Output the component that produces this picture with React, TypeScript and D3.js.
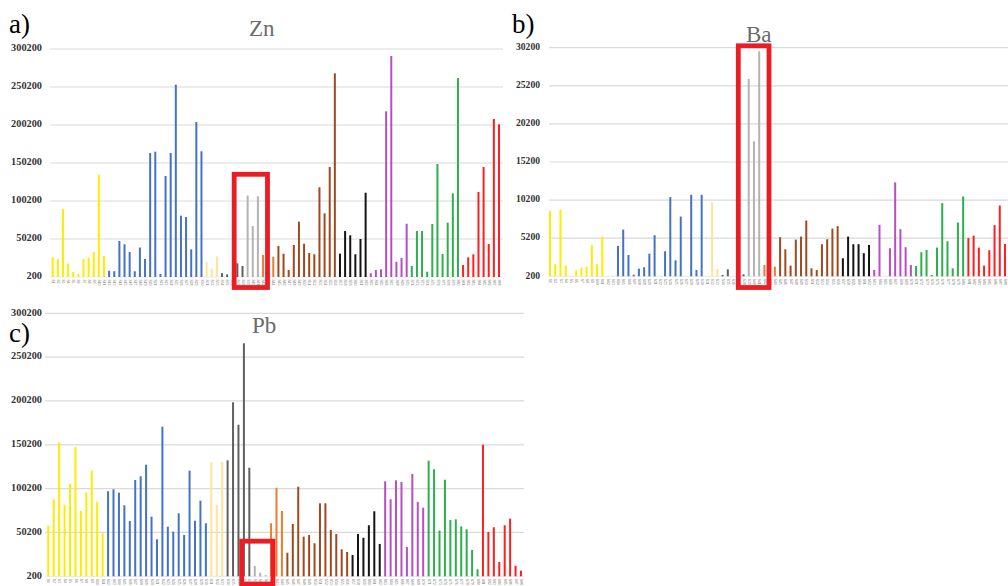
import React from "react";
import * as d3 from "d3";

const W = 1008;
const H = 586;

type GroupKey =
  | "yellow" | "blue" | "paleYellow" | "darkGray" | "gray" | "orange"
  | "brown" | "black" | "purple" | "green" | "red";

const groupOrder: GroupKey[] = [
  "yellow", "blue", "paleYellow", "darkGray", "gray", "orange",
  "brown", "black", "purple", "green", "red",
];

const groupColor: Record<GroupKey, string> = {
  yellow: "#fcec00",
  blue: "#4472c4",
  paleYellow: "#fde49a",
  darkGray: "#606060",
  gray: "#b3b3b3",
  orange: "#ed7d31",
  brown: "#9e4a1f",
  black: "#141414",
  purple: "#b54fc2",
  green: "#2fae4e",
  red: "#ff1f1f",
};

// ---- Zn ----
const znYellow = [26100, 23500, 89700, 18000, 6800, 3700, 23600, 25900, 33100, 134800, 27800];
const znBlue = [8400, 7800, 47600, 43200, 33100, 7700, 39000, 23900, 163400, 165100, 4100, 133100, 163400, 253200, 80900, 79100, 36600, 204100, 165600];
const znPaleYellow = [19900, 11100, 27400];
const znDarkGray = [5100, 3700, null, 18200, 14700];
const znGray = [107400, 67300, 106400];
const znOrange = [29200, null, 26900];
const znBrown = [41000, 30900, 9400, 42300, 73000, 44000, 31800, 30100, 118200, 84000, 144900, 268200];
const znBlack = [30900, 60700, 55100, 30100, 50200, 111100];
const znPurple = [5100, 9400, 10300, 218200, 291000, 20300, 25200, 70300];
const znGreen = [14700, 60700, 60700, 7200, 69900, 148900, 30500, 71700, 110300, 262000];
const znRed = [16000, 26100, 30100, 112000, 144900, 43600, 208100, 201100];
const znTicks = [200, 50200, 100200, 150200, 200200, 250200, 300200];

// ---- Ba ----
const baYellow = [8800, 1780, 8960, 1650, null, 940, 1330, 1460, 4320, 1780, 5410];
const baBlue = [null, null, 4190, 6330, 3000, 410, 1200, 1380, 3170, 5590, null, 3490, 10590, 2300, 8040, null, 10900, 1030, 10900];
const baPaleYellow = [null, 9940, 1200];
const baDarkGray = [370, 1120, null, null, 460];
const baGray = [26100, 17900, 29750];
const baOrange = [1690, null, 1460];
const baBrown = [5330, 3750, 1600, 5020, 5410, 7520, 1250, 1030, 4410, 5070, 6460, 6780];
const baBlack = [2570, 5410, 4410, 4410, 3230, 4320];
const baPurple = [1030, 6950, null, 3880, 12520, 6380, 4020, 1690];
const baGreen = [1560, 3360, 3660, 370, 3970, 9800, 4800, 1250, 7260, 10670];
const baRed = [5240, 5540, 3970, 1600, 3620, 6910, 9490, 4450];
const baTicks = [200, 5200, 10200, 15200, 20200, 25200, 30200];

// ---- Pb ----
const pbYellow = [57900, 88000, 153100, 81900, 105800, 147700, 74700, 96000, 120700, 85000, 49300];
const pbBlue = [97200, 99400, 95600, 81200, 63300, 110100, 114300, 127500, 68200, 42400, 170900, 56800, 51100, 72100, 47300, 120700, 63600, 86500, 60700];
const pbPaleYellow = [130600, 81900, 130600];
const pbDarkGray = [132500, 198700, 173100, 266000, 124100];
const pbGray = [12000, 4300, 1500];
const pbOrange = [60700, 101300, 74700];
const pbBrown = [27100, 59900, 102400, 45400, 47300, 37900, 83500, 83500, 53000, 48500, 31000, 27900];
const pbBlack = [24500, 48500, 44200, 58400, 74400, 37100];
const pbPurple = [108600, 88000, 109700, 107800, 33600, 117000, 85000, 78500];
const pbGreen = [132100, 122300, 52300, 110400, 64400, 65200, 57200, 53800, 30200, 8200];
const pbRed = [150400, 50700, 56100, 16500, 58400, 66000, 12300, 6600];
const pbTicks = [200, 50200, 100200, 150200, 200200, 250200, 300200];

type Series = Record<GroupKey, (number | null)[]>;

const znSeries: Series = {
  yellow: znYellow, blue: znBlue, paleYellow: znPaleYellow, darkGray: znDarkGray,
  gray: znGray, orange: znOrange, brown: znBrown, black: znBlack,
  purple: znPurple, green: znGreen, red: znRed,
};
const baSeries: Series = {
  yellow: baYellow, blue: baBlue, paleYellow: baPaleYellow, darkGray: baDarkGray,
  gray: baGray, orange: baOrange, brown: baBrown, black: baBlack,
  purple: baPurple, green: baGreen, red: baRed,
};
const pbSeries: Series = {
  yellow: pbYellow, blue: pbBlue, paleYellow: pbPaleYellow, darkGray: pbDarkGray,
  gray: pbGray, orange: pbOrange, brown: pbBrown, black: pbBlack,
  purple: pbPurple, green: pbGreen, red: pbRed,
};

type Layout = {
  xFirst: number; xLast: number;
  gridX0: number; gridX1: number;
  yTop: number; yBottom: number;
  labelX: number; labelSize: number;
  titleX: number; titleY: number;
  letterX: number; letterY: number;
  box: { x: number; y: number; w: number; h: number };
};

type PanelSpec = {
  letter: string;
  title: string;
  series: Series;
  ticks: number[];
  layout: Layout;
};

const panels: PanelSpec[] = [
  {
    letter: "a)", title: "Zn", series: znSeries, ticks: znTicks,
    layout: {
      xFirst: 52.7, xLast: 499, gridX0: 50, gridX1: 503,
      yTop: 49, yBottom: 277, labelX: 42, labelSize: 10.3,
      titleX: 249, titleY: 36, letterX: 9, letterY: 33,
      box: { x: 234.2, y: 174.3, w: 33.3, h: 113.2 },
    },
  },
  {
    letter: "b)", title: "Ba", series: baSeries, ticks: baTicks,
    layout: {
      xFirst: 550, xLast: 1005, gridX0: 549, gridX1: 1008,
      yTop: 47.7, yBottom: 276.3, labelX: 540, labelSize: 9.6,
      titleX: 746, titleY: 41.5, letterX: 512, letterY: 33,
      box: { x: 738.3, y: 45.8, w: 30.7, h: 241.7 },
    },
  },
  {
    letter: "c)", title: "Pb", series: pbSeries, ticks: pbTicks,
    layout: {
      xFirst: 48.3, xLast: 521, gridX0: 45, gridX1: 524,
      yTop: 313.3, yBottom: 576.3, labelX: 42, labelSize: 10.3,
      titleX: 252, titleY: 333, letterX: 9, letterY: 341.5,
      box: { x: 241.7, y: 541.2, w: 31.3, h: 42.8 },
    },
  },
];

const SERIF = "'Liberation Serif', 'Times New Roman', 'DejaVu Serif', serif";

type Bar = { id: string; group: GroupKey; value: number | null };

function flatten(series: Series): Bar[] {
  const bars: Bar[] = [];
  groupOrder.forEach((g) => {
    series[g].forEach((v) => {
      bars.push({ id: `S${bars.length + 1}`, group: g, value: v });
    });
  });
  return bars;
}

function BarPanel({ spec }: { spec: PanelSpec }) {
  const L = spec.layout;
  const bars = flatten(spec.series);
  const x = d3.scalePoint<string>().domain(bars.map((b) => b.id)).range([L.xFirst, L.xLast]);
  const yMin = spec.ticks[0];
  const yMax = spec.ticks[spec.ticks.length - 1];
  const y = d3.scaleLinear().domain([yMin, yMax]).range([L.yBottom, L.yTop]);
  const barW = 2;

  return (
    <g>
      {spec.ticks.map((t) => (
        <g key={t}>
          <line
            x1={L.gridX0} x2={L.gridX1} y1={y(t)} y2={y(t)}
            stroke={t === yMin ? "#ececec" : "#dadada"} strokeWidth={1.2}
          />
          <text
            x={L.labelX} y={y(t)} textAnchor="end" dominantBaseline="middle"
            fontFamily={SERIF} fontWeight="bold" fontSize={L.labelSize} fill="#333"
          >
            {String(t)}
          </text>
        </g>
      ))}
      {bars.map((b) =>
        b.value == null ? null : (
          <rect
            key={b.id}
            x={(x(b.id) as number) - barW / 2}
            y={y(b.value)}
            width={barW}
            height={Math.max(0.8, y(yMin) - y(b.value))}
            fill={groupColor[b.group]}
          />
        )
      )}
      {bars.map((b) => (
        <text
          key={"l" + b.id}
          transform={`translate(${x(b.id)},${L.yBottom + 2.5}) rotate(90)`}
          fontFamily={SERIF} fontSize={3.8} fill="#6a6a6a" dominantBaseline="middle"
        >
          {b.id}
        </text>
      ))}
      <rect
        x={L.box.x} y={L.box.y} width={L.box.w} height={L.box.h}
        fill="none" stroke="#ec1c24" strokeWidth={4.8}
      />
      <text x={L.titleX} y={L.titleY} fontFamily={SERIF} fontSize={23} fill="#6a6a6a">
        {spec.title}
      </text>
      <text x={L.letterX} y={L.letterY} fontFamily={SERIF} fontSize={27} fill="#000">
        {spec.letter}
      </text>
    </g>
  );
}

export default function App() {
  return (
    <svg
      width={W}
      height={H}
      viewBox={`0 0 ${W} ${H}`}
      style={{ position: "absolute", left: 0, top: 0, display: "block", background: "#fff" }}
    >
      <rect x={0} y={0} width={W} height={H} fill="#fff" />
      {panels.map((p) => (
        <BarPanel key={p.letter} spec={p} />
      ))}
    </svg>
  );
}
